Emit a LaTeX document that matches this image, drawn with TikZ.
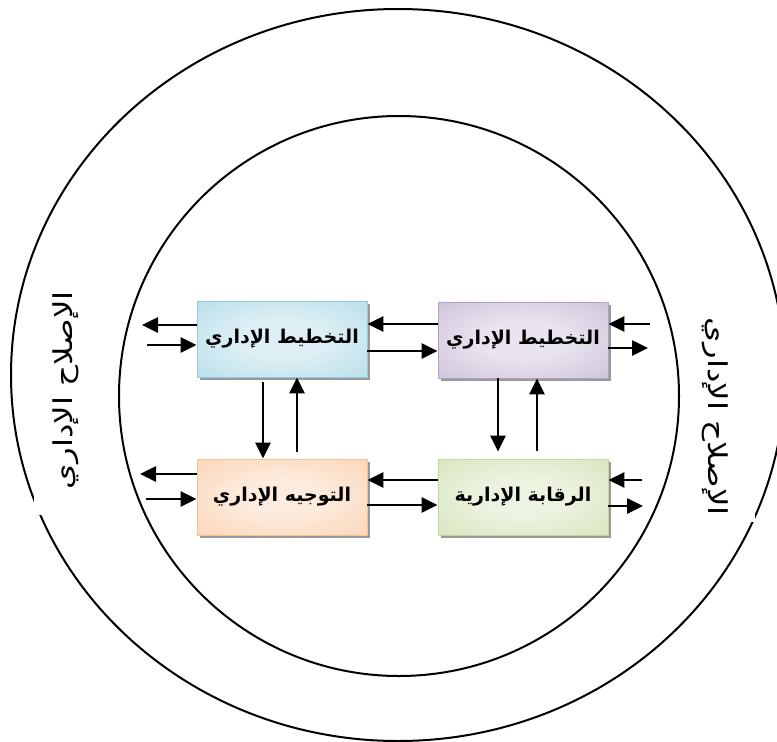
\documentclass[tikz,border=0pt]{standalone}
\usepackage{fontspec}
\newfontfamily\arabicfont[Script=Arabic]{DejaVu Sans}
\TeXXeTstate=1
\usetikzlibrary{arrows.meta,shadows}

% box colours: edge tint and light centre
\definecolor{blueEdge}{HTML}{93CDDD}
\definecolor{blueMid}{HTML}{DEF0F5}
\definecolor{lilacEdge}{HTML}{B3A2C7}
\definecolor{lilacMid}{HTML}{E9E4EF}
\definecolor{peachEdge}{HTML}{FAC090}
\definecolor{peachMid}{HTML}{FDEBDD}
\definecolor{greenEdge}{HTML}{C3D69B}
\definecolor{greenMid}{HTML}{EDF3E1}

\pgfdeclareradialshading{blueshade}{\pgfpointorigin}{color(0bp)=(blueMid); color(12bp)=(blueMid); color(62bp)=(blueEdge); color(100bp)=(blueEdge)}
\pgfdeclareradialshading{lilacshade}{\pgfpointorigin}{color(0bp)=(lilacMid); color(12bp)=(lilacMid); color(62bp)=(lilacEdge); color(100bp)=(lilacEdge)}
\pgfdeclareradialshading{peachshade}{\pgfpointorigin}{color(0bp)=(peachMid); color(12bp)=(peachMid); color(62bp)=(peachEdge); color(100bp)=(peachEdge)}
\pgfdeclareradialshading{greenshade}{\pgfpointorigin}{color(0bp)=(greenMid); color(12bp)=(greenMid); color(62bp)=(greenEdge); color(100bp)=(greenEdge)}

\tikzset{
  ring/.style={line width=2pt},
  stage/.style={minimum width=170pt, minimum height=76pt, inner sep=0pt,
    line width=0.9pt,
    font=\arabicfont\bfseries\fontsize{19}{22}\selectfont,
    drop shadow={shadow xshift=3pt, shadow yshift=-3pt, fill=black!40, opacity=1}},
  ringlabel/.style={font=\arabicfont\fontsize{26}{28}\selectfont, inner sep=0pt},
  flow/.style={line width=2.6pt, -{Triangle[length=16pt,width=15pt]}},
}

\begin{document}
\begin{tikzpicture}[x=1pt, y=-1pt]
  \clip (0,0) rectangle (777,742);
  \fill[white] (0,0) rectangle (777,742);

  % outer ring with the openings behind its two labels
  \draw[ring] (398,375) ellipse [x radius=387pt, y radius=366pt];
  \fill[white] (34,280) rectangle (100,515);
  \fill[white] (690,300) rectangle (755,522);

  % inner ring
  \draw[ring] (399,396) circle [radius=280pt];

  % labels on the outer ring
  \node[ringlabel, rotate=90] (reformL) at (66,390) {\scalebox{1.25}[1]{\beginR الإصلاح الإداري\endR}};
  \node[ringlabel, rotate=-90] (reformR) at (715,417) {\scalebox{1.25}[1]{\beginR الإصلاح الإداري\endR}};

  % the four functions
  \node[stage, shading=blueshade, draw=blueEdge] (tl) at (282,339) {\beginR التخطيط الإداري\endR};
  \node[stage, shading=lilacshade, draw=lilacEdge] (tr) at (523,340) {\beginR التخطيط الإداري\endR};
  \node[stage, shading=peachshade, draw=peachEdge] (bl) at (282,497) {\beginR التوجيه الإداري\endR};
  \node[stage, shading=greenshade, draw=greenEdge] (br) at (523,497) {\beginR الرقابة الإدارية\endR};

  % free ends of the outward / inward arrows
  \coordinate (tlOut) at (142,325);
  \coordinate (tlIn)  at (147,345);
  \coordinate (trIn)  at (650,324);
  \coordinate (trOut) at (648,348);
  \coordinate (blOut) at (140,474);
  \coordinate (blIn)  at (146,499);
  \coordinate (brIn)  at (642,480);
  \coordinate (brOut) at (643,506);

  % top row
  \draw[flow] (tl.west |- tlOut) -- (tlOut);
  \draw[flow] (tlIn) -- (tl.west |- tlIn);
  \draw[flow] (tr.west |- 0,324) -- (tl.east |- 0,324);
  \draw[flow] (tl.east |- 0,351) -- (tr.west |- 0,351);
  \draw[flow] (trIn) -- (tr.east |- trIn);
  \draw[flow] (tr.east |- trOut) -- (trOut);

  % bottom row
  \draw[flow] (bl.west |- blOut) -- (blOut);
  \draw[flow] (blIn) -- (bl.west |- blIn);
  \draw[flow] (br.west |- 0,480) -- (bl.east |- 0,480);
  \draw[flow] (bl.east |- 0,505) -- (br.west |- 0,505);
  \draw[flow] (brIn) -- (br.east |- brIn);
  \draw[flow] (br.east |- brOut) -- (brOut);

  % vertical links
  \draw[flow, shorten <=5pt] (tl.south -| 263,0) -- (bl.north -| 263,0);
  \draw[flow, shorten <=7pt] (bl.north -| 297,0) -- (tl.south -| 297,0);
  \draw[flow, shorten >=7pt] (tr.south -| 498,0) -- (br.north -| 498,0);
  \draw[flow, shorten <=8pt] (br.north -| 537,0) -- (tr.south -| 537,0);
\end{tikzpicture}
\end{document}
